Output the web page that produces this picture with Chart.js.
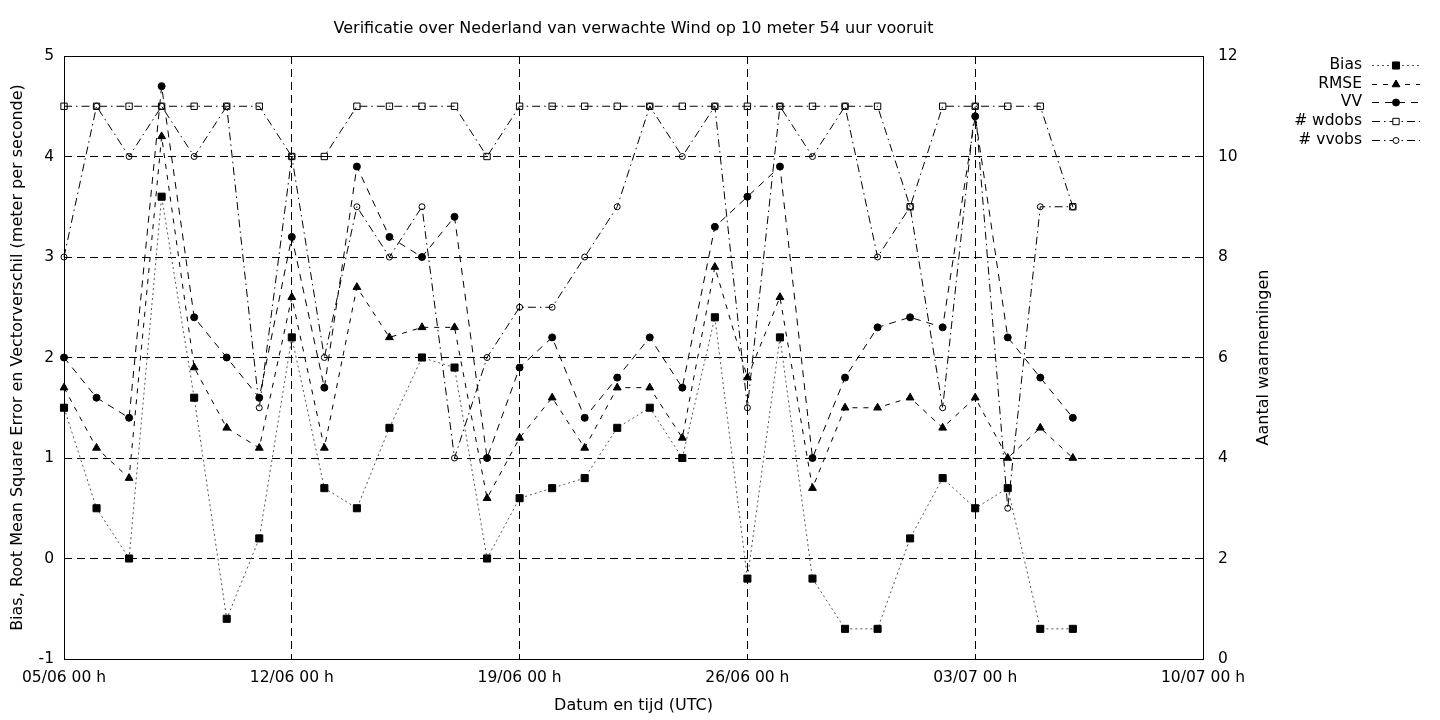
<!DOCTYPE html>
<html>
<head>
<meta charset="utf-8">
<script src="https://cdn.jsdelivr.net/npm/chart.js@4.4.0/dist/chart.umd.min.js"></script>
<style>
  html, body { margin: 0; padding: 0; background: #fff; }
  canvas { display: block; }
</style>
</head>
<body>
<canvas id="verif" width="1440" height="720"></canvas>
<script>
// dagen 05/06 t/m 06/07, één punt per dag (00 h)
const dates = ['05/06','06/06','07/06','08/06','09/06','10/06','11/06','12/06','13/06','14/06',
  '15/06','16/06','17/06','18/06','19/06','20/06','21/06','22/06','23/06','24/06','25/06',
  '26/06','27/06','28/06','29/06','30/06','01/07','02/07','03/07','04/07','05/07','06/07'];

const bias = [1.5, 0.5, 0.0, 3.6, 1.6, -0.6, 0.2, 2.2, 0.7, 0.5, 1.3, 2.0, 1.9, 0.0, 0.6, 0.7,
  0.8, 1.3, 1.5, 1.0, 2.4, -0.2, 2.2, -0.2, -0.7, -0.7, 0.2, 0.8, 0.5, 0.7, -0.7, -0.7];
const rmse = [1.7, 1.1, 0.8, 4.2, 1.9, 1.3, 1.1, 2.6, 1.1, 2.7, 2.2, 2.3, 2.3, 0.6, 1.2, 1.6,
  1.1, 1.7, 1.7, 1.2, 2.9, 1.8, 2.6, 0.7, 1.5, 1.5, 1.6, 1.3, 1.6, 1.0, 1.3, 1.0];
const vv = [2.0, 1.6, 1.4, 4.7, 2.4, 2.0, 1.6, 3.2, 1.7, 3.9, 3.2, 3.0, 3.4, 1.0, 1.9, 2.2,
  1.4, 1.8, 2.2, 1.7, 3.3, 3.6, 3.9, 1.0, 1.8, 2.3, 2.4, 2.3, 4.4, 2.2, 1.8, 1.4];
const wdobs = [11, 11, 11, 11, 11, 11, 11, 10, 10, 11, 11, 11, 11, 10, 11, 11,
  11, 11, 11, 11, 11, 11, 11, 11, 11, 11, 9, 11, 11, 11, 11, 9];
const vvobs = [8, 11, 10, 11, 10, 11, 5, 10, 6, 9, 8, 9, 4, 6, 7, 7,
  8, 9, 11, 10, 11, 5, 11, 10, 11, 8, 9, 5, 11, 3, 9, 9];

const tickLabels = ['05/06 00 h', '12/06 00 h', '19/06 00 h', '26/06 00 h', '03/07 00 h', '10/07 00 h'];
const title = 'Verificatie over Nederland van verwachte Wind op 10 meter 54 uur vooruit';

const FONT = 'DejaVu Sans';
const TICK = 15.5;
const LABEL = 16;

function pts(arr) {
  return arr.map((v, i) => ({ x: i, y: v }));
}

const series = [
  { label: 'Bias', data: bias, axis: 'y', dash: [2, 3], color: '#555', style: 'rect', r: 5, fill: true },
  { label: 'RMSE', data: rmse, axis: 'y', dash: [5, 6], color: '#000', style: 'triangle', r: 4.5, fill: true },
  { label: 'VV', data: vv, axis: 'y', dash: [7, 6], color: '#000', style: 'circle', r: 3.5, fill: true },
  { label: '# wdobs', data: wdobs, axis: 'y1', dash: [8, 4, 1.5, 4], color: '#000', style: 'rect', r: 4.5, fill: false },
  { label: '# vvobs', data: vvobs, axis: 'y1', dash: [8, 4, 1.5, 4], color: '#000', style: 'circle', r: 3, fill: false }
];

const datasets = series.map((s, i) => ({
  label: s.label,
  data: pts(s.data),
  yAxisID: s.axis,
  borderColor: s.color,
  borderWidth: 1,
  borderDash: s.dash,
  pointStyle: s.style,
  pointRadius: s.r,
  pointBorderColor: '#000',
  pointBorderWidth: 1,
  pointBackgroundColor: s.fill ? '#000' : 'rgba(0,0,0,0)',
  tension: 0,
  fill: false,
  clip: false,
  order: series.length - i
}));

// titel, kader, rechter as-titel en legenda
const extras = {
  id: 'extras',
  afterDraw(chart) {
    const ctx = chart.ctx;
    const a = chart.chartArea;
    ctx.save();
    ctx.setLineDash([]);
    ctx.strokeStyle = '#000';
    ctx.lineWidth = 1;
    ctx.strokeRect(Math.round(a.left) + 0.5, Math.round(a.top) + 0.5,
      Math.round(a.right - a.left), Math.round(a.bottom - a.top));

    ctx.fillStyle = '#000';
    ctx.font = LABEL + 'px "' + FONT + '"';
    ctx.textAlign = 'center';
    ctx.textBaseline = 'middle';
    ctx.fillText(title, (a.left + a.right) / 2, 29);
    ctx.translate(1264, (a.top + a.bottom) / 2);
    ctx.rotate(-Math.PI / 2);
    ctx.fillText('Aantal waarnemingen', 0, 0);
    ctx.restore();

    const rows = [65, 84, 102, 121, 140];
    ctx.save();
    ctx.font = TICK + 'px "' + FONT + '"';
    ctx.textAlign = 'right';
    ctx.textBaseline = 'middle';
    series.forEach((s, i) => {
      const y = rows[i] + 0.5;
      ctx.fillStyle = '#000';
      ctx.fillText(s.label, 1362, rows[i]);
      ctx.strokeStyle = s.color;
      ctx.lineWidth = 1;
      ctx.setLineDash(s.dash);
      ctx.beginPath();
      ctx.moveTo(1372, y);
      ctx.lineTo(1420, y);
      ctx.stroke();
      ctx.setLineDash([]);
      const cx = 1396;
      ctx.strokeStyle = '#000';
      ctx.fillStyle = '#000';
      ctx.beginPath();
      if (s.style === 'rect') {
        const h = s.r * Math.SQRT1_2;
        ctx.rect(cx - h, y - h, 2 * h, 2 * h);
      } else if (s.style === 'triangle') {
        const r = s.r;
        ctx.moveTo(cx, y - r);
        ctx.lineTo(cx + r * 0.866, y + r * 0.5);
        ctx.lineTo(cx - r * 0.866, y + r * 0.5);
        ctx.closePath();
      } else {
        ctx.arc(cx, y, s.r, 0, Math.PI * 2);
      }
      if (s.fill) ctx.fill();
      else {
        ctx.fillStyle = '#fff';
        ctx.fill();
      }
      ctx.stroke();
    });
    ctx.restore();
  }
};

const ctx = document.getElementById('verif').getContext('2d');
new Chart(ctx, {
  type: 'line',
  data: { datasets: datasets },
  plugins: [extras],
  options: {
    responsive: false,
    animation: false,
    devicePixelRatio: 1,
    layout: { padding: { top: 56, left: 0, right: 0, bottom: 0 } },
    font: { family: FONT, size: TICK },
    plugins: {
      legend: { display: false },
      tooltip: { enabled: false },
      title: { display: false }
    },
    scales: {
      x: {
        type: 'linear',
        min: 0,
        max: 35,
        afterFit: s => { s.height = 61; },
        ticks: {
          stepSize: 7,
          color: '#000',
          padding: 10,
          maxRotation: 0,
          font: { family: FONT, size: TICK },
          callback: (v, i) => tickLabels[i]
        },
        grid: {
          drawTicks: false,
          color: c => (c.tick && (c.tick.value === 0 || c.tick.value === 35)) ? 'rgba(0,0,0,0)' : '#000',
          lineWidth: 1
        },
        border: { display: false, dash: [8, 5] },
        title: {
          display: true,
          text: 'Datum en tijd (UTC)',
          color: '#000',
          font: { family: FONT, size: LABEL },
          padding: { top: 4, bottom: 4.4 }
        }
      },
      y: {
        position: 'left',
        min: -1,
        max: 5,
        afterFit: s => { s.width = 64; },
        ticks: {
          stepSize: 1,
          color: '#000',
          padding: 10,
          font: { family: FONT, size: TICK }
        },
        grid: { drawTicks: false, color: '#000', lineWidth: 1 },
        border: { display: false, dash: [8, 5] },
        title: {
          display: true,
          text: 'Bias, Root Mean Square Error en Vectorverschil (meter per seconde)',
          color: '#000',
          font: { family: FONT, size: LABEL },
          padding: { top: 8.5, bottom: 0 }
        }
      },
      y1: {
        position: 'right',
        min: 0,
        max: 12,
        afterFit: s => { s.width = 237; },
        ticks: {
          stepSize: 2,
          color: '#000',
          padding: 15,
          font: { family: FONT, size: TICK }
        },
        grid: { display: false, drawTicks: false },
        border: { display: false }
      }
    }
  }
});
</script>
</body>
</html>
